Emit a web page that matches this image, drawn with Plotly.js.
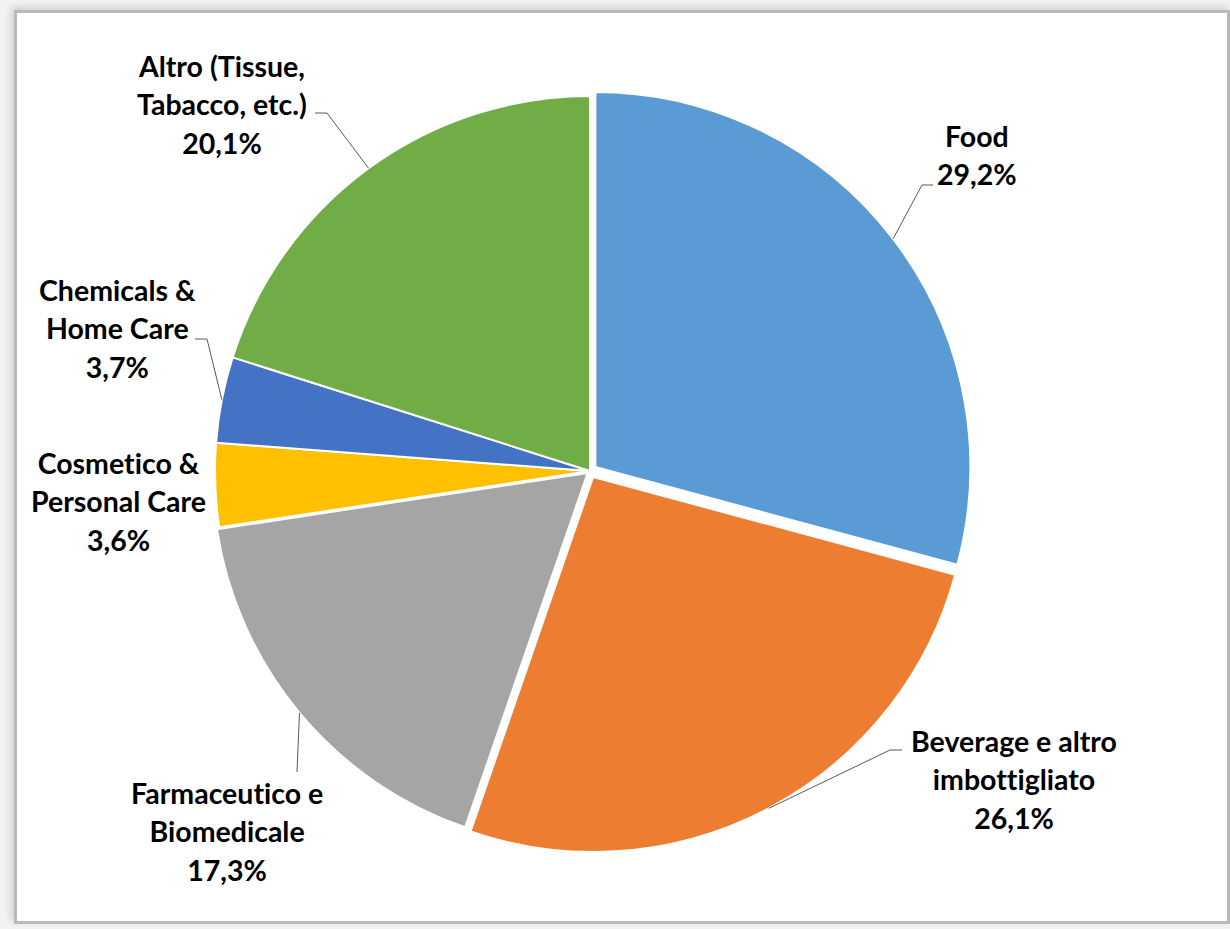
<!DOCTYPE html>
<html><head><meta charset="utf-8">
<script src="https://cdn.plot.ly/plotly-3.0.1.min.js"></script>
<style>
html,body{margin:0;padding:0;background:#fff;}
#wrap{position:relative;width:1230px;height:929px;overflow:hidden;background:#f3f3f3;}
#frame{position:absolute;left:14px;top:10px;width:1216px;height:914px;box-sizing:border-box;border:3px solid #b9b9b9;background:#fff;box-shadow:-3px -3px 8px rgba(0,0,0,0.15);}
#chart{position:absolute;left:0;top:0;width:1230px;height:929px;}
svg text, svg tspan{font-variant-ligatures:none;font-feature-settings:"liga" 0, "clig" 0;}
</style></head>
<body><div id="wrap"><div id="frame"></div><div id="chart"></div></div>
<script>
// ---- data ----
const categories = ['Food', 'Beverage e altro imbottigliato', 'Farmaceutico e Biomedicale', 'Cosmetico & Personal Care', 'Chemicals & Home Care', 'Altro (Tissue, Tabacco, etc.)'];
const labelLines = [['Food'], ['Beverage e altro', 'imbottigliato'], ['Farmaceutico e', 'Biomedicale'], ['Cosmetico &', 'Personal Care'], ['Chemicals &', 'Home Care'], ['Altro (Tissue,', 'Tabacco, etc.)']];
const shares = [29.2, 26.1, 17.3, 3.6, 3.7, 20.1];

// ---- style / layout ----
const colors = ['#5B9BD5', '#ED7D31', '#A5A5A5', '#FFC000', '#4472C4', '#70AD47'];
const pulls = [0.018, 0.018, 0.008, 0, 0, 0];
const labelCentres = [[977, 155], [1014, 779], [227, 831], [118, 501], [117, 329], [222, 105]];
// leader line bends / ends (pixels) after the pie-edge anchor; empty = no leader
const leaderPaths = [
  [[922, 185], [933, 185]],
  [[890, 750], [902, 750]],
  [[297, 772]],
  [],
  [[207, 339], [195, 339]],
  [[327, 113], [315, 113]]
];

const W = 1230, H = 929;
const cx = 590, cy = 471, R = 375;
const maxPull = Math.max(...pulls);
const half = R * (1 + maxPull);
const domain = {
  x: [(cx - half) / W, (cx + half) / W],
  y: [(H - cy - half) / H, (H - cy + half) / H]
};
const toPaper = (p) => [(p[0] / W).toFixed(5), (1 - p[1] / H).toFixed(5)];

const total = shares.reduce((a, b) => a + b, 0);
const annotations = [];
const shapes = [];
let cum = 0;
shares.forEach((v, i) => {
  const th = (cum + v / 2) / total * 2 * Math.PI;
  cum += v;
  const rr = R * (1 + pulls[i]);
  const px = cx + rr * Math.sin(th);
  const py = cy - rr * Math.cos(th);
  const pct = v.toFixed(1).replace('.', ',') + '%';
  const lines = labelLines[i].concat([pct]).map(s => '<span style="font-size:28.5px">' + s + '</span>');
  annotations.push({
    xref: 'paper', yref: 'paper',
    x: labelCentres[i][0] / W, y: 1 - labelCentres[i][1] / H,
    xanchor: 'center', yanchor: 'middle',
    text: lines.join('<br>'),
    showarrow: false,
    align: 'center',
    font: {family: 'Lato, "Noto Sans", sans-serif', size: 29.6, color: '#000', weight: 'bold'}
  });
  if (leaderPaths[i].length) {
    const pts = [[px, py]].concat(leaderPaths[i]).map(toPaper);
    shapes.push({
      type: 'path', xref: 'paper', yref: 'paper',
      path: 'M' + pts.map(p => p[0] + ',' + p[1]).join(' L'),
      line: {color: '#595959', width: 1}
    });
  }
});

const trace = {
  type: 'pie',
  values: shares,
  labels: categories,
  sort: false,
  direction: 'clockwise',
  rotation: 0,
  textinfo: 'none',
  hoverinfo: 'none',
  pull: pulls,
  marker: {colors: colors, line: {color: '#ffffff', width: 2}},
  domain: domain
};

Plotly.newPlot('chart', [trace], {
  width: W, height: H,
  margin: {l: 0, r: 0, t: 0, b: 0},
  paper_bgcolor: 'rgba(0,0,0,0)',
  plot_bgcolor: 'rgba(0,0,0,0)',
  showlegend: false,
  annotations: annotations,
  shapes: shapes
}, {staticPlot: true, displayModeBar: false});
</script>
</body></html>
